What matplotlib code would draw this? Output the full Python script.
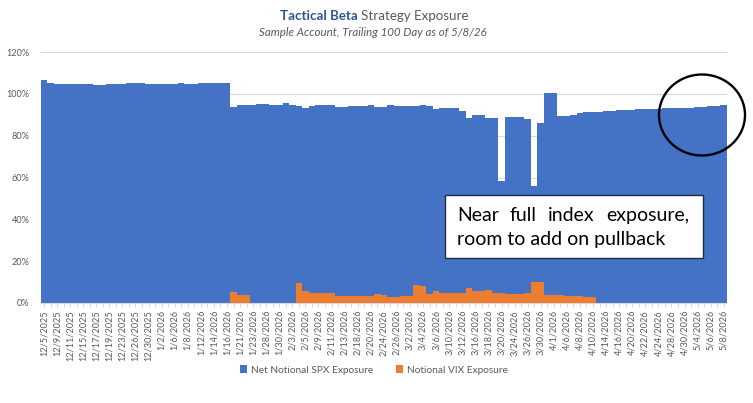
import matplotlib.pyplot as plt
from matplotlib.patches import Ellipse, Rectangle

# trading days shown on the x axis
dates = ["12/5/2025", "12/8/2025", "12/9/2025", "12/10/2025", "12/11/2025", "12/12/2025",
         "12/15/2025", "12/16/2025", "12/17/2025", "12/18/2025", "12/19/2025", "12/22/2025",
         "12/23/2025", "12/24/2025", "12/26/2025", "12/29/2025", "12/30/2025", "12/31/2025",
         "1/2/2026", "1/5/2026", "1/6/2026", "1/7/2026", "1/8/2026", "1/9/2026",
         "1/12/2026", "1/13/2026", "1/14/2026", "1/15/2026", "1/16/2026", "1/20/2026",
         "1/21/2026", "1/22/2026", "1/23/2026", "1/26/2026", "1/28/2026", "1/29/2026",
         "1/30/2026", "2/2/2026", "2/3/2026", "2/4/2026", "2/5/2026", "2/6/2026",
         "2/9/2026", "2/10/2026", "2/11/2026", "2/12/2026", "2/13/2026", "2/17/2026",
         "2/18/2026", "2/19/2026", "2/20/2026", "2/23/2026", "2/24/2026", "2/25/2026",
         "2/26/2026", "2/27/2026", "3/2/2026", "3/3/2026", "3/4/2026", "3/5/2026",
         "3/6/2026", "3/9/2026", "3/10/2026", "3/11/2026", "3/12/2026", "3/13/2026",
         "3/16/2026", "3/17/2026", "3/18/2026", "3/19/2026", "3/20/2026", "3/23/2026",
         "3/24/2026", "3/25/2026", "3/26/2026", "3/27/2026", "3/30/2026", "3/31/2026",
         "4/1/2026", "4/2/2026", "4/6/2026", "4/7/2026", "4/8/2026", "4/9/2026",
         "4/10/2026", "4/13/2026", "4/14/2026", "4/15/2026", "4/16/2026", "4/17/2026",
         "4/20/2026", "4/21/2026", "4/22/2026", "4/23/2026", "4/24/2026", "4/27/2026",
         "4/28/2026", "4/29/2026", "4/30/2026", "5/1/2026", "5/4/2026", "5/5/2026",
         "5/6/2026", "5/7/2026", "5/8/2026"]

# net notional SPX exposure, %
spx = [106.8, 105.0, 104.5, 104.8, 104.8, 104.5, 104.5, 104.5, 104.2, 104.2,
       104.5, 104.5, 104.8, 105.0, 105.0, 105.0, 104.8, 104.5, 104.5, 104.5,
       104.8, 105.0, 104.8, 104.8, 105.2, 105.2, 105.2, 105.2, 105.2,
       93.6, 94.8, 94.9, 94.9, 95.2, 95.2, 94.9, 94.9, 95.4, 94.9,
       94.4, 93.3, 94.4, 94.8, 94.8, 94.8, 93.6, 93.6, 94.1, 94.1,
       94.1, 94.6, 93.6, 93.6,
       94.9, 94.4, 94.1, 94.1, 94.1, 94.8, 94.0, 92.9, 93.3, 93.3, 93.2, 92.0,
       88.4, 89.8, 89.8, 88.4, 88.4, 58.5, 89.0, 89.0, 89.0, 88.0, 56.0, 86.0,
       100.3, 100.6,
       89.3, 89.5, 89.7, 90.9, 91.1, 91.3, 91.5, 91.7, 91.9, 92.1,
       92.3, 92.4, 92.6, 92.7, 92.8, 92.9, 93.0, 93.1, 93.2, 93.3,
       93.4, 93.6, 93.8, 94.0, 94.2, 94.6]

# notional VIX exposure, %
vix = ([0.0] * 29
       + [5.1, 3.8, 3.8]
       + [0.0] * 7
       + [9.6, 5.9, 4.9, 4.9, 4.9, 4.9, 3.3, 3.3, 3.3, 3.3, 3.3, 3.3,
          4.3, 4.0, 3.0, 3.0, 3.3, 3.3]
       + [8.6, 8.3, 4.3, 5.9, 4.6, 4.6, 4.6, 4.6, 7.0, 5.9,
          5.9, 6.2, 5.0, 4.6, 4.3, 4.3, 4.3, 4.9, 9.9, 9.9,
          3.8, 3.8, 3.8, 3.5, 3.3, 3.3, 3.0, 3.0]
       + [0.0] * 20)

yticks = [0, 20, 40, 60, 80, 100, 120]

BLUE = "#4472C4"
ORANGE = "#ED7D31"
GRAY = "#595959"
FONT = ["Lato", "DejaVu Sans"]

plt.rcParams["font.family"] = FONT

fig = plt.figure(figsize=(7.53, 4.03), dpi=100)
ax = fig.add_axes([40.7 / 753, 1 - 303 / 403, (727 - 40.7) / 753, (303 - 52) / 403])

x = list(range(len(dates)))
ax.bar(x, spx, width=1.0, color=BLUE, label="Net Notional SPX Exposure", zorder=2)
ax.bar(x, vix, width=1.0, color=ORANGE, label="Notional VIX Exposure", zorder=3)

ax.set_xlim(-0.5, len(dates) - 0.5)
ax.set_ylim(0, 120)
ax.set_yticks(yticks)
ax.set_yticklabels([f"{v}%" for v in yticks], color=GRAY, fontsize=6.6)
ax.yaxis.grid(True, color="#D9D9D9", lw=0.8, zorder=0)
ax.set_axisbelow(True)
ax.tick_params(axis="y", length=0, pad=8)

ax.set_xticks(x)
ax.set_xticklabels([d if i % 2 == 0 else "" for i, d in enumerate(dates)],
                   rotation=90, fontsize=6.6, color=GRAY)
ax.tick_params(axis="x", length=3, color="#D9D9D9", pad=2)

for s in ["top", "right", "left"]:
    ax.spines[s].set_visible(False)
ax.spines["bottom"].set_color("#D9D9D9")

# title in two colours
fig.text(357.5 / 753, 1 - 16 / 403, "Tactical Beta", ha="right", va="center",
         fontsize=9.6, fontweight="bold", color="#2F5597")
fig.text(361 / 753, 1 - 16 / 403, "Strategy Exposure", ha="left", va="center",
         fontsize=9.6, color=GRAY)
fig.text(373 / 753, 1 - 32 / 403,
         "Sample Account, Trailing 100 Day as of 5/8/26",
         ha="center", va="center", fontsize=8.3, style="italic", color=GRAY)

fig.legend(loc="center", bbox_to_anchor=(374 / 753, 1 - 370 / 403), ncol=2,
           frameon=False, fontsize=7.3, handlelength=0.75, handleheight=0.75,
           columnspacing=2.2, handletextpad=0.4, labelcolor=GRAY)

# annotation box
fig.patches.append(Rectangle((445 / 753, 1 - 258 / 403), (703 - 445) / 753, 63 / 403,
                             transform=fig.transFigure, facecolor="white",
                             edgecolor="#1F2A44", lw=1.0, zorder=5))
for word, wx in zip(["Near", "full", "index", "exposure,"], [457, 510, 548, 606]):
    fig.text(wx / 753, 1 - 215 / 403, word, ha="left", va="center",
             fontsize=14, color="black", zorder=6)
fig.text(457 / 753, 1 - 240 / 403, "room to add on pullback", ha="left", va="center",
         fontsize=14, color="black", zorder=6)

fig.patches.append(Ellipse((702 / 753, 1 - 115 / 403), 86 / 753, 81 / 403,
                           transform=fig.transFigure, fill=False,
                           edgecolor="black", lw=1.7, zorder=6))

fig.savefig("out.png", dpi=100)
